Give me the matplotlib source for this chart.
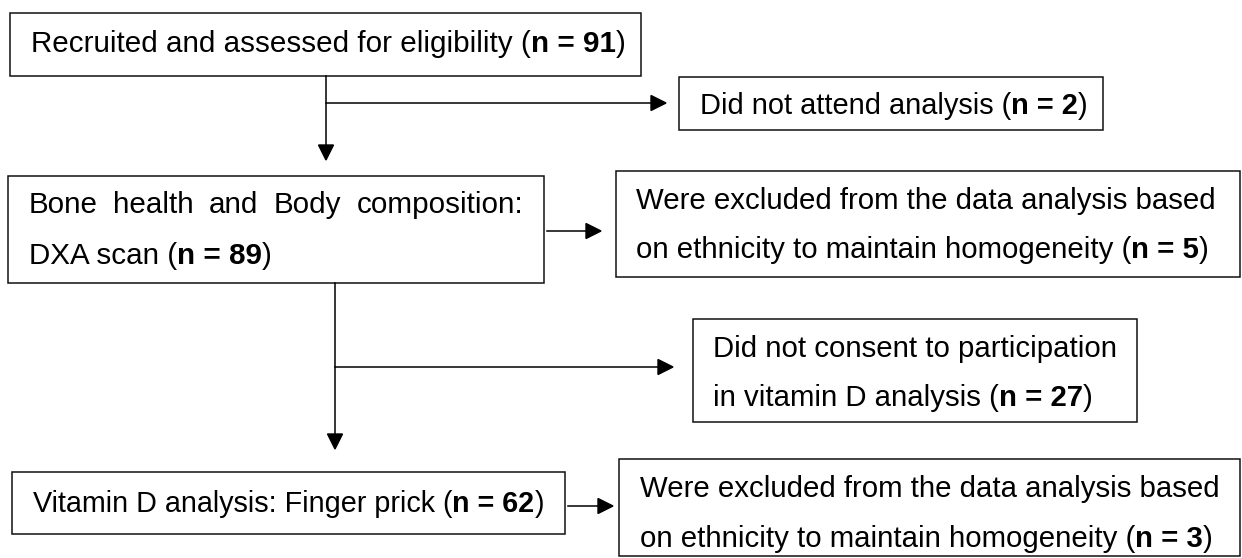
import matplotlib.pyplot as plt
from matplotlib.patches import Rectangle, Polygon

plt.rcParams['font.family'] = ['Liberation Sans', 'DejaVu Sans']

# Textos de cada caja (una lista por caja, una cadena por linea) y el n en negrita
textos = [
    ["Recruited and assessed for eligibility ("],
    ["Did not attend analysis ("],
    ["Bone health and Body composition:", "DXA scan ("],
    ["Were excluded from the data analysis based", "on ethnicity to maintain homogeneity ("],
    ["Did not consent to participation", "in vitamin D analysis ("],
    ["Vitamin D analysis: Finger prick ("],
    ["Were excluded from the data analysis based", "on ethnicity to maintain homogeneity ("],
]
n_valores = [91, 2, 89, 5, 27, 62, 3]

# Geometria (pixeles): caja x0, y0, x1, y1
cajas = [(10, 13, 641, 76), (679, 77, 1103, 130), (8, 176, 544, 283),
         (616, 171, 1240, 277), (693, 319, 1137, 422), (12, 472, 565, 534),
         (619, 459, 1240, 556)]
x_texto = [31, 700, 29, 636, 713, 33, 640]
y_base = [[52], [114], [213, 264], [209, 258], [357, 406], [512], [497, 547]]
tam_letra = [21.3, 20.9, 21.3, 21.2, 21.2, 20.7, 21.2]
justificar = [False, False, True, False, False, False, False]
x_fin_just = 523

# flechas: (x0, y0, x1, y1) con la punta en (x1, y1)
flechas = [(326, 76, 326, 160), (326, 103, 666, 103), (547, 231, 601, 231),
           (335, 283, 335, 449), (335, 367, 673, 367), (568, 506, 613, 506)]

fig = plt.figure(figsize=(12.42, 5.58), dpi=100)
ax = fig.add_axes([0, 0, 1, 1])
ax.set_xlim(0, 1242)
ax.set_ylim(558, 0)
ax.axis('off')

for (x0, y0, x1, y1) in cajas:
    ax.add_patch(Rectangle((x0, y0), x1 - x0, y1 - y0, fill=False,
                           edgecolor='#111111', linewidth=1.1))

for (x0, y0, x1, y1) in flechas:
    L = 15
    w = 7.5
    if x0 == x1:
        ax.plot([x0, x1], [y0, y1 - L], color='black', linewidth=1.1)
        ax.add_patch(Polygon([(x1 - w, y1 - L), (x1 + w, y1 - L), (x1, y1)],
                             closed=True, color='black'))
    else:
        ax.plot([x0, x1 - L], [y0, y1], color='black', linewidth=1.1)
        ax.add_patch(Polygon([(x1 - L, y1 - w), (x1 - L, y1 + w), (x1, y1)],
                             closed=True, color='black'))

fig.canvas.draw()
renderer = fig.canvas.get_renderer()
inv = ax.transData.inverted()


def ancho(t):
    bb = t.get_window_extent(renderer)
    return inv.transform((bb.x1, 0))[0] - inv.transform((bb.x0, 0))[0]


for i in range(len(textos)):
    lineas = textos[i]
    fs = tam_letra[i]
    for j in range(len(lineas)):
        x = x_texto[i]
        y = y_base[i][j]
        ultima = (j == len(lineas) - 1)
        if justificar[i] and not ultima:
            palabras = lineas[j].split(' ')
            objs = [ax.text(0, y, p, fontsize=fs, va='baseline') for p in palabras]
            anchos = [ancho(o) for o in objs]
            hueco = (x_fin_just - x - sum(anchos)) / (len(palabras) - 1)
            for o, a in zip(objs, anchos):
                o.set_x(x)
                x = x + a + hueco
            continue
        t = ax.text(x, y, lineas[j], fontsize=fs, va='baseline')
        if ultima:
            x = x + ancho(t)
            t = ax.text(x, y, "n = " + str(n_valores[i]), fontsize=fs,
                        va='baseline', fontweight='bold')
            x = x + ancho(t)
            ax.text(x, y, ")", fontsize=fs, va='baseline')

fig.savefig('out.png', dpi=100)
